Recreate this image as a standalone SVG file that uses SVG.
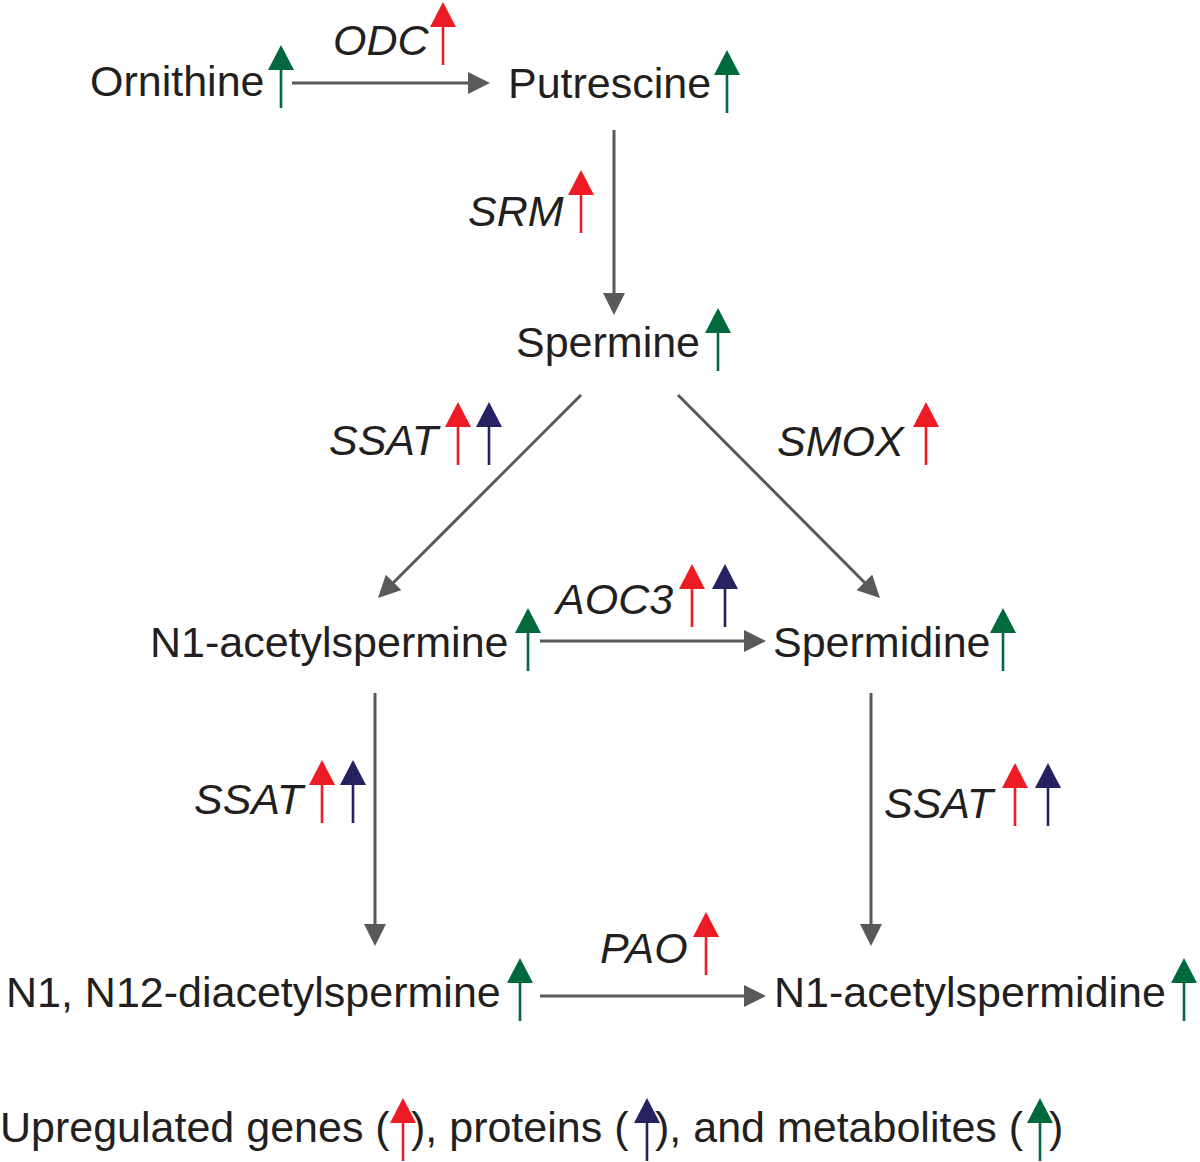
<svg xmlns="http://www.w3.org/2000/svg" xmlns:xlink="http://www.w3.org/1999/xlink" width="1200" height="1162" viewBox="0 0 1200 1162">
<style>
text{font-family:"Liberation Sans",Arial,sans-serif;font-size:43px;fill:#231f20}
.e{font-style:italic}
.c{stroke:#58595b;stroke-width:3;fill:none;marker-end:url(#ah)}
.r{color:#ed1c24}.b{color:#262262}.g{color:#00693e}
</style>
<defs>
<marker id="ah" markerUnits="userSpaceOnUse" markerWidth="24" markerHeight="24" refX="10" refY="11" orient="auto"><path d="M0,0 L22,11 L0,22 Z" fill="#58595b"/></marker>
<g id="up"><path d="M0,0 L13,25 L-13,25 Z" fill="currentColor"/><line x1="0" y1="24" x2="0" y2="63" stroke="currentColor" stroke-width="2.6"/></g>
</defs>
<rect width="1200" height="1162" fill="#fff"/>
<g id="connectors">
<line class="c" x1="292" y1="83" x2="478" y2="83"/>
<line class="c" x1="614" y1="130" x2="614" y2="303"/>
<line class="c" x1="581" y1="395" x2="386.5" y2="589.5"/>
<line class="c" x1="678" y1="395" x2="871.5" y2="589.5"/>
<line class="c" x1="540" y1="641" x2="754" y2="641"/>
<line class="c" x1="375" y1="693" x2="375" y2="934"/>
<line class="c" x1="871" y1="693" x2="871" y2="934"/>
<line class="c" x1="540" y1="996" x2="754" y2="996"/>
</g>
<g id="ornithine"><text x="90" y="96">Ornithine</text><use href="#up" class="g" x="281" y="45"/></g>
<g id="odc"><text class="e" x="333" y="55">ODC</text><use href="#up" class="r" x="443" y="2"/></g>
<g id="putrescine"><text x="508" y="98">Putrescine</text><use href="#up" class="g" x="727" y="50"/></g>
<g id="srm"><text class="e" x="468" y="226">SRM</text><use href="#up" class="r" x="581" y="170"/></g>
<g id="spermine"><text x="516" y="357">Spermine</text><use href="#up" class="g" x="718" y="308"/></g>
<g id="ssat1"><text class="e" x="329" y="455">SSAT</text><use href="#up" class="r" x="458" y="402"/><use href="#up" class="b" x="489" y="402"/></g>
<g id="smox"><text class="e" x="777" y="456">SMOX</text><use href="#up" class="r" x="926" y="402"/></g>
<g id="n1acetylspermine"><text x="150" y="657">N1-acetylspermine</text><use href="#up" class="g" x="528" y="608"/></g>
<g id="aoc3"><text class="e" x="556" y="614">AOC3</text><use href="#up" class="r" x="692" y="564"/><use href="#up" class="b" x="725" y="564"/></g>
<g id="spermidine"><text x="773" y="657">Spermidine</text><use href="#up" class="g" x="1003" y="608"/></g>
<g id="ssat2"><text class="e" x="194" y="814">SSAT</text><use href="#up" class="r" x="322" y="760"/><use href="#up" class="b" x="353" y="760"/></g>
<g id="ssat3"><text class="e" x="884" y="818">SSAT</text><use href="#up" class="r" x="1015" y="763"/><use href="#up" class="b" x="1048" y="763"/></g>
<g id="pao"><text class="e" x="600" y="963">PAO</text><use href="#up" class="r" x="706" y="912"/></g>
<g id="diacetylspermine"><text x="6" y="1007">N1, N12-diacetylspermine</text><use href="#up" class="g" x="520" y="958"/></g>
<g id="n1acetylspermidine"><text x="774" y="1007">N1-acetylspermidine</text><use href="#up" class="g" x="1184" y="958"/></g>
<g id="legend">
<text x="0" y="1142">Upregulated genes (</text>
<use href="#up" class="r" x="403" y="1098"/>
<text x="411" y="1142">), proteins (</text>
<use href="#up" class="b" x="647" y="1098"/>
<text x="655" y="1142">), and metabolites (</text>
<use href="#up" class="g" x="1040" y="1098"/>
<text x="1049" y="1142">)</text>
</g>
</svg>
